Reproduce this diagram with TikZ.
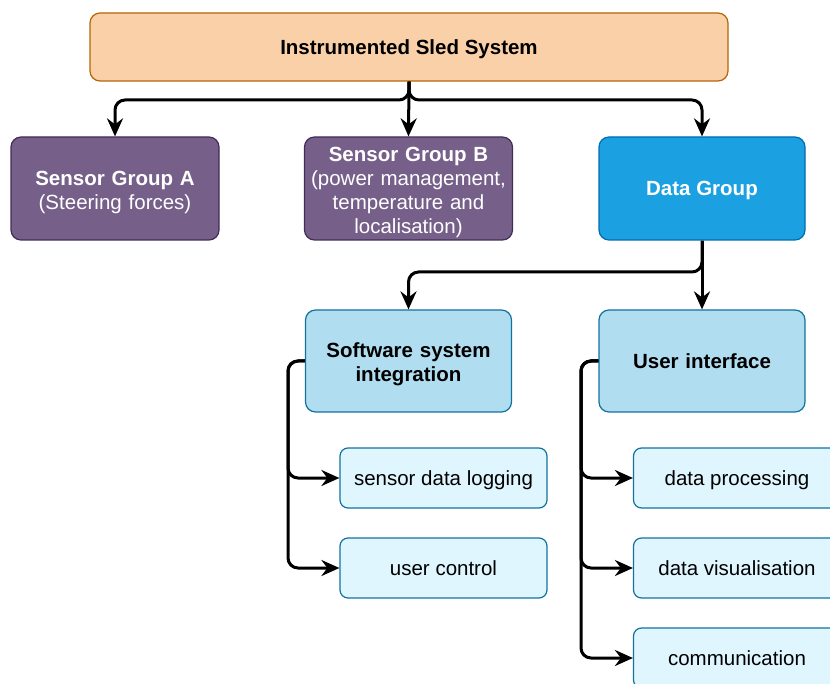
\documentclass[tikz,border=0pt]{standalone}
\usepackage{fontspec}
\setmainfont{Liberation Sans}
\usetikzlibrary{arrows.meta}
\definecolor{orfill}{HTML}{FAD0A8}
\definecolor{ordraw}{HTML}{B46504}
\definecolor{pufill}{HTML}{76608A}
\definecolor{pudraw}{HTML}{432D57}
\definecolor{blfill}{HTML}{1BA1E2}
\definecolor{bldraw}{HTML}{006EAF}
\definecolor{lbfill}{HTML}{B1DDF0}
\definecolor{lbdraw}{HTML}{10739E}
\definecolor{lffill}{HTML}{E0F6FF}
\tikzset{
  box/.style={draw, line width=1.2pt, rounded corners=10pt, align=center, inner sep=2pt,
    text depth=-2.7pt, font=\fontsize{20.5}{24}\selectfont},
  twolines/.style={text depth=21.3pt},
  fourlines/.style={text depth=69.3pt},
  topbox/.style={box, fill=orfill, draw=ordraw, minimum width=638pt, minimum height=68pt, font=\fontsize{20.5}{24}\selectfont\bfseries},
  purp/.style={box, fill=pufill, draw=pudraw, text=white, minimum width=206pt, minimum height=103pt, text width=204pt},
  dgroup/.style={box, fill=blfill, draw=bldraw, text=white, minimum width=206pt, minimum height=103pt, font=\fontsize{20.5}{24}\selectfont\bfseries},
  mid/.style={box, fill=lbfill, draw=lbdraw, minimum width=206pt, minimum height=102pt, text width=200pt, font=\fontsize{20.5}{24}\selectfont\bfseries},
  leaf/.style={box, fill=lffill, draw=lbdraw, minimum width=207pt, minimum height=60pt, rounded corners=8pt},
  conn/.style={line width=3pt, rounded corners=10pt, -{Stealth[length=18pt,width=16pt,inset=6pt]}}
}
\begin{document}
\begin{tikzpicture}[x=1pt,y=-1pt]
\useasboundingbox (0,0) rectangle (830,684);
\node[topbox] (top) at (409,47) {Instrumented Sled System};
\node[purp, twolines] (A) at (115,188.5) {\textbf{Sensor Group A}\\(Steering forces)};
\node[purp, fourlines] (B) at (408.5,188.5) {\textbf{Sensor Group B}\\(power management,\\temperature and\\localisation)};
\node[dgroup] (D) at (702,188.5) {Data Group};
\node[mid, twolines] (S) at (408.5,361) {Software system\\integration};
\node[mid] (U) at (702,361) {User interface};
\node[leaf] (sdl) at (443.5,478) {sensor data logging};
\node[leaf] (uc) at (443.5,568) {user control};
\node[leaf] (dp) at (737,478) {data processing};
\node[leaf] (dv) at (737,568) {data visualisation};
\node[leaf] (cm) at (737,658) {communication};
\coordinate (j1) at (409,100);
\coordinate (j2) at (702,272);
\coordinate (j3) at (288,361);
\coordinate (j4) at (581,361);
\draw[conn] (top.south) -- (j1) -| (A.north);
\draw[conn] (top.south) -- (B.north);
\draw[conn] (top.south) -- (j1) -| (D.north);
\draw[conn] (D.south) -- (j2) -| (S.north);
\draw[conn] (D.south) -- (U.north);
\draw[conn] (S.west) -- (j3) |- (sdl.west);
\draw[conn] (S.west) -- (j3) |- (uc.west);
\draw[conn] (U.west) -- (j4) |- (dp.west);
\draw[conn] (U.west) -- (j4) |- (dv.west);
\draw[conn] (U.west) -- (j4) |- (cm.west);
\end{tikzpicture}
\end{document}
